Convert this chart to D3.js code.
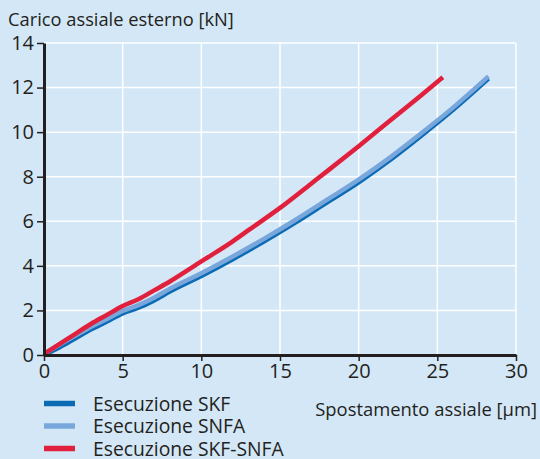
<!DOCTYPE html>
<html><head><meta charset="utf-8">
<script src="https://cdn.jsdelivr.net/npm/d3@7"></script>
<style>html,body{margin:0;padding:0;background:#d3e7f6;}svg{display:block;}</style>
</head><body>
<script>
const xSKF   = [0, 1, 2, 3, 4, 5, 6, 7, 8, 10, 12, 14, 16, 18, 20, 22, 24, 26, 28.25];
const ySKF   = [0, 0.35, 0.75, 1.15, 1.5, 1.87, 2.12, 2.45, 2.85, 3.55, 4.3, 5.1, 5.95, 6.85, 7.75, 8.75, 9.85, 11.0, 12.4];
const xSNFA  = [0, 1, 2, 3, 4, 5, 6, 7, 8, 10, 12, 14, 16, 18, 20, 22, 24, 26, 28.25];
const ySNFA  = [0.05, 0.47, 0.87, 1.27, 1.62, 1.98, 2.24, 2.57, 2.97, 3.67, 4.42, 5.22, 6.07, 6.97, 7.87, 8.87, 9.96, 11.1, 12.5];
const xMix   = [0, 1, 2, 3, 4, 5, 6, 7, 8, 10, 12, 13, 15, 17, 18, 20, 22, 24, 25.35];
const yMix   = [0.05, 0.5, 0.95, 1.4, 1.8, 2.2, 2.5, 2.9, 3.3, 4.2, 5.1, 5.6, 6.6, 7.7, 8.25, 9.37, 10.52, 11.67, 12.46];
const xTicks = [0, 5, 10, 15, 20, 25, 30];
const yTicks = [0, 2, 4, 6, 8, 10, 12, 14];
const seriesNames = ["Esecuzione SKF", "Esecuzione SNFA", "Esecuzione SKF-SNFA"];
const seriesColors = ["#0a6ab4", "#79a7dc", "#e0203d"];
const yTitle = "Carico assiale esterno [kN]";
const xTitle = "Spostamento assiale [µm]";

const W = 540, H = 459;
const svg = d3.select("body").append("svg").attr("width", W).attr("height", H);
svg.append("rect").attr("width", W).attr("height", H).attr("fill", "#d3e7f6");
const font = "'Open Sans', sans-serif";
const ink = "#231f20";
const x = d3.scaleLinear().domain([0, 30]).range([44, 516]);
const y = d3.scaleLinear().domain([0, 14]).range([355, 43]);

// grid
svg.append("g").selectAll("line").data(xTicks.slice(1)).join("line")
  .attr("x1", d => x(d)).attr("x2", d => x(d)).attr("y1", y(0)).attr("y2", y(14))
  .attr("stroke", "#fff").attr("stroke-width", 1.5);
svg.append("g").selectAll("line").data(yTicks.slice(1)).join("line")
  .attr("x1", x(0)).attr("x2", x(30)).attr("y1", d => y(d)).attr("y2", d => y(d))
  .attr("stroke", "#fff").attr("stroke-width", 1.5);

const line = d3.line().x(d => x(d[0])).y(d => y(d[1])).curve(d3.curveMonotoneX);
const series = [d3.zip(xSKF, ySKF), d3.zip(xSNFA, ySNFA), d3.zip(xMix, yMix)];
series.forEach((s, i) => {
  svg.append("path").datum(s).attr("d", line).attr("fill", "none")
    .attr("stroke", seriesColors[i]).attr("stroke-width", 4.5);
});

// axes
const xAxis = svg.append("g").attr("transform", `translate(0,${y(0)})`)
  .call(d3.axisBottom(x).tickValues(xTicks).tickSize(6).tickPadding(3).tickSizeOuter(0));
const yAxis = svg.append("g").attr("transform", `translate(${x(0)},0)`)
  .call(d3.axisLeft(y).tickValues(yTicks).tickSize(7).tickPadding(3).tickSizeOuter(0));
[xAxis, yAxis].forEach(a => {
  a.select(".domain").attr("stroke", ink).attr("stroke-width", 3);
  a.selectAll(".tick line").attr("stroke", ink).attr("stroke-width", 1.5);
  a.selectAll("text").attr("fill", ink).attr("font-family", font).attr("font-size", 20);
});

svg.append("text").attr("x", 8).attr("y", 26).text(yTitle)
  .attr("font-family", font).attr("font-size", 18.3).attr("fill", ink);
svg.append("text").attr("x", 537).attr("y", 416).attr("text-anchor", "end").text(xTitle)
  .attr("font-family", font).attr("font-size", 18.4).attr("fill", ink);

const lg = svg.append("g");
seriesNames.forEach((n, i) => {
  const yy = 403.5 + i * 22.5;
  lg.append("line").attr("x1", 44).attr("x2", 75).attr("y1", yy).attr("y2", yy)
    .attr("stroke", seriesColors[i]).attr("stroke-width", 5.5);
  lg.append("text").attr("x", 93).attr("y", yy + 7).text(n)
    .attr("font-family", font).attr("font-size", 19.3).attr("fill", ink);
});
</script>
</body></html>
